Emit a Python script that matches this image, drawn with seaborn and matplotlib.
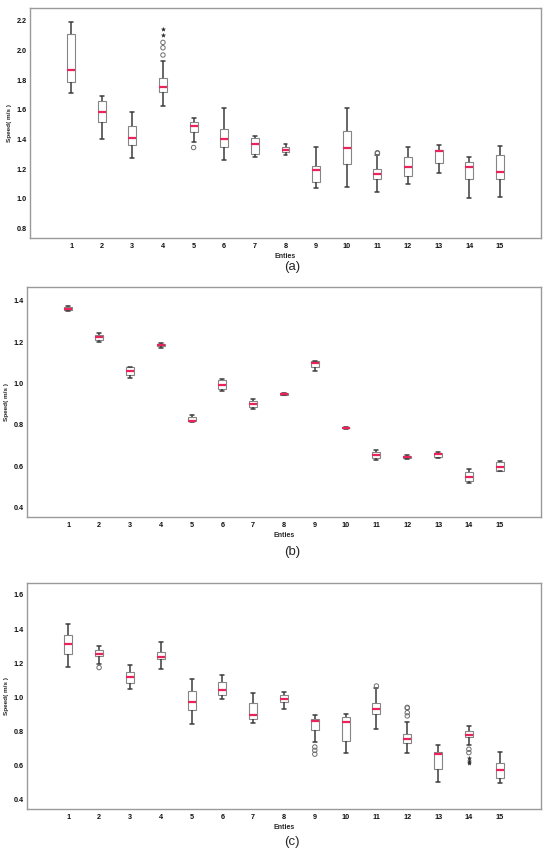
import matplotlib
matplotlib.use("Agg")
import matplotlib.pyplot as plt
import numpy as np
import pandas as pd
import seaborn as sns

# ---------------- data ----------------
entities = [str(i) for i in range(1, 16)]

# panel (a)
a_lo  = [1.712, 1.400, 1.276, 1.625, 1.385, 1.261, 1.283, 1.297, 1.070, 1.081, 1.047, 1.097, 1.173, 1.004, 1.013]
a_q1  = [1.785, 1.515, 1.362, 1.719, 1.449, 1.350, 1.303, 1.313, 1.112, 1.232, 1.135, 1.153, 1.243, 1.135, 1.135]
a_med = [1.867, 1.584, 1.411, 1.753, 1.490, 1.400, 1.367, 1.328, 1.191, 1.344, 1.166, 1.213, 1.319, 1.211, 1.182]
a_q3  = [2.112, 1.656, 1.490, 1.814, 1.515, 1.472, 1.407, 1.346, 1.220, 1.456, 1.200, 1.279, 1.330, 1.245, 1.297]
a_hi  = [2.189, 1.694, 1.582, 1.930, 1.544, 1.613, 1.422, 1.367, 1.350, 1.613, 1.292, 1.350, 1.364, 1.283, 1.355]
a_out = {"4": [2.054, 2.018, 1.969], "5": [1.345], "11": [1.310, 1.306]}
a_ext = {"4": [2.142, 2.106]}
a_yticks = [0.8, 1.0, 1.2, 1.4, 1.6, 1.8, 2.0, 2.2]

# panel (b)
b_lo  = [1.348, 1.200, 1.027, 1.172, 0.815, 0.965, 0.877, 0.943, 1.058, 0.782, 0.629, 0.634, 0.640, 0.518, 0.575]
b_q1  = [1.353, 1.210, 1.041, 1.179, 0.817, 0.973, 0.886, 0.946, 1.078, 0.784, 0.639, 0.641, 0.643, 0.527, 0.576]
b_med = [1.361, 1.223, 1.062, 1.184, 0.820, 0.993, 0.901, 0.950, 1.100, 0.785, 0.656, 0.646, 0.659, 0.550, 0.598]
b_q3  = [1.369, 1.236, 1.078, 1.189, 0.838, 1.017, 0.917, 0.953, 1.107, 0.786, 0.668, 0.652, 0.666, 0.574, 0.619]
b_hi  = [1.373, 1.242, 1.081, 1.194, 0.850, 1.022, 0.925, 0.956, 1.109, 0.788, 0.679, 0.656, 0.669, 0.587, 0.626]
b_out = {}
b_ext = {}
b_yticks = [0.4, 0.6, 0.8, 1.0, 1.2, 1.4]

# panel (c)
c_lo  = [1.178, 1.194, 1.051, 1.165, 0.843, 0.989, 0.849, 0.934, 0.740, 0.673, 0.817, 0.677, 0.505, 0.724, 0.501]
c_q1  = [1.255, 1.243, 1.083, 1.225, 0.927, 1.016, 0.872, 0.972, 0.811, 0.747, 0.903, 0.732, 0.580, 0.770, 0.530]
c_med = [1.311, 1.256, 1.120, 1.239, 0.973, 1.046, 0.899, 0.989, 0.862, 0.855, 0.934, 0.755, 0.671, 0.782, 0.575]
c_q3  = [1.364, 1.280, 1.147, 1.267, 1.036, 1.092, 0.966, 1.013, 0.874, 0.887, 0.966, 0.786, 0.681, 0.806, 0.615]
c_hi  = [1.428, 1.301, 1.192, 1.323, 1.106, 1.133, 1.028, 1.030, 0.899, 0.901, 1.054, 0.856, 0.722, 0.833, 0.681]
c_out = {"2": [1.175], "9": [0.710, 0.690, 0.668], "11": [1.067],
         "12": [0.942, 0.938, 0.911, 0.892], "14": [0.697, 0.677]}
c_ext = {"14": [0.644, 0.630, 0.615]}
c_yticks = [0.4, 0.6, 0.8, 1.0, 1.2, 1.4, 1.6]

# ---------------- helpers ----------------
REP = 30  # weight that pins quartiles to the read values


def build_frame(lo, q1, med, q3, hi, out, ext):
    rows = []
    for i, e in enumerate(entities):
        vals = [lo[i]] + [q1[i]] * REP + [med[i]] * REP + [q3[i]] * REP + [hi[i]]
        vals += out.get(e, []) + ext.get(e, [])
        rows += [(e, v) for v in vals]
    return pd.DataFrame(rows, columns=["Entity", "Speed"])


def dict_frame(d):
    rows = [(e, v) for e in entities for v in d.get(e, [])]
    return pd.DataFrame(rows, columns=["Entity", "Speed"])


sns.set_style("white")
plt.rcParams["font.family"] = ["Liberation Sans", "DejaVu Sans"]

W, H = 550, 856
fig = plt.figure(figsize=(W / 100, H / 100), dpi=100)

panels = [
    # (data, yticks, ylim, axes pixel box (l, t, r, b), label, label y)
    ((a_lo, a_q1, a_med, a_q3, a_hi, a_out, a_ext), a_yticks, (0.735, 2.286), (30, 8, 541, 238), "(a)", 267),
    ((b_lo, b_q1, b_med, b_q3, b_hi, b_out, b_ext), b_yticks, (0.355, 1.466), (27, 287, 541, 517), "(b)", 552),
    ((c_lo, c_q1, c_med, c_q3, c_hi, c_out, c_ext), c_yticks, (0.347, 1.670), (27, 583, 541, 809), "(c)", 842),
]

for (lo, q1, med, q3, hi, out, ext), yticks, ylim, (l, t, r, b), lab, laby in panels:
    ax = fig.add_axes([l / W, 1 - b / H, (r - l) / W, (b - t) / H])
    df = build_frame(lo, q1, med, q3, hi, out, ext)
    sns.boxplot(
        data=df, x="Entity", y="Speed", order=entities, ax=ax,
        width=0.26, whis=1.5, showfliers=False,
        color="white", linecolor="#858585", linewidth=0.8,
        boxprops=dict(facecolor="white", edgecolor="#858585", linewidth=0.8),
        medianprops=dict(color="#e8245a", linewidth=1.6),
        whiskerprops=dict(color="#3c3c3c", linewidth=1.1),
        capprops=dict(color="#3c3c3c", linewidth=1.1),
    )
    odf = dict_frame(out)
    if len(odf):
        sns.stripplot(data=odf, x="Entity", y="Speed", order=entities, ax=ax,
                      jitter=False, marker="o", size=3.2, color="#6e6e6e",
                      facecolors="none", edgecolor="#6e6e6e", linewidth=0.7)
    edf = dict_frame(ext)
    if len(edf):
        sns.stripplot(data=edf, x="Entity", y="Speed", order=entities, ax=ax,
                      jitter=False, marker="*", size=3.0, color="#2a2a2a",
                      edgecolor="#2a2a2a", linewidth=0.3)

    ax.set_xlim(-1.34, 15.34)
    ax.set_ylim(*ylim)
    ax.set_yticks(yticks)
    ax.set_yticklabels([f"{v:.1f}" for v in yticks])
    ax.tick_params(axis="both", length=0, labelsize=5.2, colors="#111111")
    ax.tick_params(axis="y", pad=2.5)
    ax.tick_params(axis="x", pad=3.5)
    for tl in ax.get_xticklabels() + ax.get_yticklabels():
        tl.set_fontweight("bold")
    ax.set_xlabel("Enties", fontsize=5, fontweight="bold", labelpad=2.5)
    ax.set_ylabel("Speed( m/s )", fontsize=4.6, fontweight="bold", labelpad=3)
    for s in ax.spines.values():
        s.set_color("#9a9a9a")
        s.set_linewidth(1.0)
    ax.grid(False)
    fig.text(292 / W, 1 - laby / H, lab, ha="center", va="center", fontsize=9.5)

fig.savefig("out.png", dpi=100)
